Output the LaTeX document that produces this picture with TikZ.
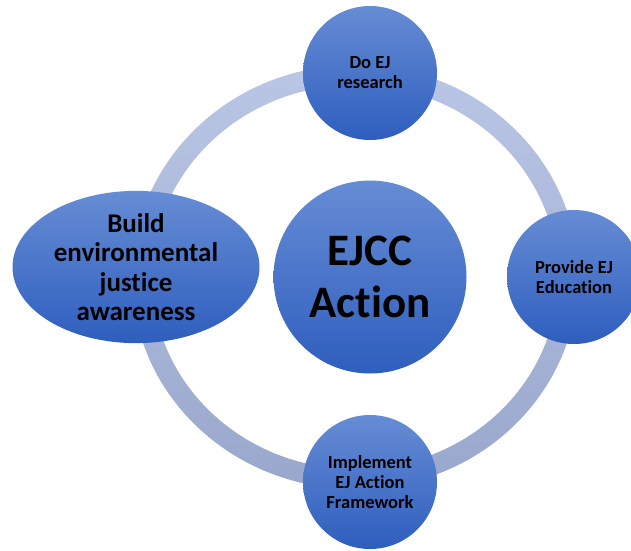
\documentclass[tikz,border=0pt]{standalone}
\usepackage{fontspec}
\setmainfont{Carlito}[Ligatures=NoCommon]
\usetikzlibrary{shapes.geometric}
\definecolor{nodetop}{RGB}{102,140,212}
\definecolor{nodebot}{RGB}{46,94,190}
\definecolor{ringtop}{RGB}{186,198,229}
\definecolor{ringbot}{RGB}{152,167,204}
\tikzset{
  bubble/.style={circle, minimum size=134pt, inner sep=0pt, top color=nodetop, bottom color=nodebot, align=center, text=black, font=\bfseries\fontsize{18.5}{20}\selectfont},
  hub/.style={circle, minimum size=193pt, inner sep=0pt, top color=nodetop, bottom color=nodebot, align=center, text=black, font=\bfseries\fontsize{45}{52}\selectfont},
  oval/.style={ellipse, minimum width=247pt, minimum height=135pt, inner sep=0pt, top color=nodetop, bottom color=nodebot, align=center, text=black, font=\bfseries\fontsize{27}{29.5}\selectfont}
}
\begin{document}
\begin{tikzpicture}[x=1pt,y=-1pt]
\useasboundingbox (0,0) rectangle (631,550);
\clip (0,0) rectangle (631,550);
\shade[top color=ringtop, bottom color=ringbot, even odd rule]
  (355,277) ellipse [x radius=223, y radius=212]
  (355,277) ellipse [x radius=203, y radius=192];
\node[hub] (hub) at (370,277) {EJCC\\Action};
\node[bubble] (top) at (370,73) {Do EJ\\research};
\node[bubble] (right) at (574,277) {Provide EJ\\Education};
\node[bubble] (bottom) at (370,482) {Implement\\EJ Action\\Framework};
\node[oval] (left) at (136,267) {Build\\environmental\\justice\\awareness};
\end{tikzpicture}
\end{document}
